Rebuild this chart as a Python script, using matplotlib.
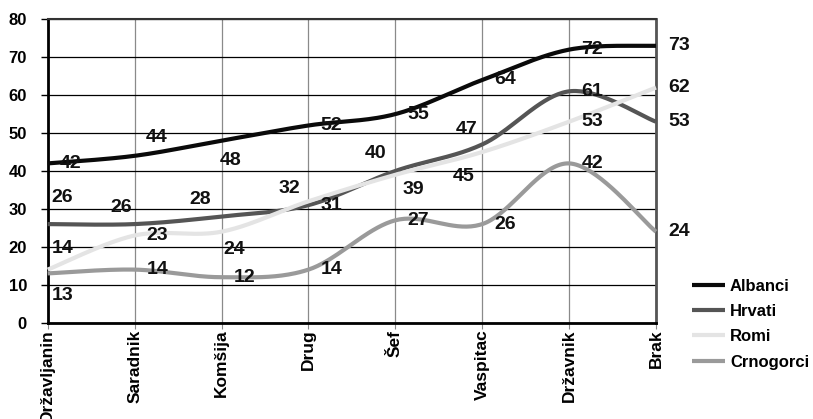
import numpy as np
import matplotlib.pyplot as plt

# ----------------------------
# Data
# ----------------------------
categories = ["Državljanin", "Saradnik", "Komšija", "Drug",
              "Šef", "Vaspitac", "Državnik", "Brak"]
series_names = ["Albanci", "Hrvati", "Romi", "Crnogorci"]
albanci = [42, 44, 48, 52, 55, 64, 72, 73]
hrvati = [26, 26, 28, 31, 40, 47, 61, 53]
romi = [14, 23, 24, 32, 39, 45, 53, 62]
crnogorci = [13, 14, 12, 14, 27, 26, 42, 24]
y_ticks = [0, 10, 20, 30, 40, 50, 60, 70, 80]

# ----------------------------
# Styling
# ----------------------------
colors = ["#0a0a0a", "#555555", "#e4e4e4", "#9a9a9a"]
# label offsets in pixels (dx, dy) per point
R = (23, 0)
label_offsets = [
    [R, (22, 18), (9, -20), R, R, R, R, R],
    [(14, 27), (-13, 17), (-21, 17), R, (-20, 17), (-16, 15), R, R],
    [(15, 21), R, (13, -18), (-19, 13), (18, -15), (-19, -24), R, R],
    [(15, -22), R, R, R, R, R, R, R],
]

plt.rcParams['font.family'] = ['Liberation Sans', 'DejaVu Sans']
plt.rcParams['font.weight'] = 'bold'


def smooth(xs, ys, n=40):
    # cubic bezier through the points, catmull-rom style control points
    pts = np.column_stack([xs, ys]).astype(float)
    out = [pts[0]]
    t = np.linspace(0, 1, n)[1:, None]
    for i in range(len(pts) - 1):
        p0 = pts[max(i - 1, 0)]
        p1 = pts[i]
        p2 = pts[i + 1]
        p3 = pts[min(i + 2, len(pts) - 1)]
        c1 = p1 + (p2 - p0) / 6.0
        c2 = p2 - (p3 - p1) / 6.0
        seg = ((1 - t) ** 3 * p1 + 3 * (1 - t) ** 2 * t * c1
               + 3 * (1 - t) * t ** 2 * c2 + t ** 3 * p2)
        out.extend(seg)
    out = np.array(out)
    return out[:, 0], out[:, 1]


fig = plt.figure(figsize=(8.13, 4.19), dpi=100)
ax = fig.add_axes([0.0587, 0.2298, 0.7482, 0.7242])

x = np.arange(len(categories))
all_series = [albanci, hrvati, romi, crnogorci]

handles = []
for i, (name, vals) in enumerate(zip(series_names, all_series)):
    sx, sy = smooth(x, vals)
    line, = ax.plot(sx, sy, color=colors[i], lw=3, label=name,
                    solid_capstyle='butt', zorder=3 + i, clip_on=False)
    handles.append(line)

for i, vals in enumerate(all_series):
    for j, v in enumerate(vals):
        dx, dy = label_offsets[i][j]
        ax.annotate(str(v), (x[j], v), xytext=(dx, dy),
                    textcoords='offset pixels', ha='center', va='center',
                    fontsize=14, fontweight='bold', color='#111111',
                    annotation_clip=False, zorder=10)

ax.set_xlim(0, len(categories) - 1)
ax.set_ylim(0, 80)
ax.set_yticks(y_ticks)
ax.set_xticks(x)
ax.set_xticklabels(categories, rotation=90, fontsize=12.5, fontweight='bold')
ax.tick_params(axis='x', length=4, color='#888888', pad=1)
ax.tick_params(axis='y', length=5, width=1, color='black', pad=10,
               labelsize=12)
for lab in ax.get_yticklabels():
    lab.set_fontweight('bold')

ax.grid(axis='y', color='black', lw=0.9)
ax.grid(axis='x', color='#8a8a8a', lw=0.9)
ax.set_axisbelow(True)

ax.spines['left'].set_linewidth(2)
ax.spines['bottom'].set_linewidth(2)
ax.spines['top'].set_linewidth(1.5)
ax.spines['top'].set_color('#333333')
ax.spines['right'].set_linewidth(2)
ax.spines['right'].set_color('#555555')

fig.legend(handles=handles, loc='center left',
           bbox_to_anchor=(0.8508, 0.2267), frameon=False,
           handlelength=2.0, handletextpad=0.3,
           labelspacing=0.62, borderpad=0, borderaxespad=0,
           prop={'weight': 'bold', 'size': 12})

fig.savefig("out.png", dpi=100)
